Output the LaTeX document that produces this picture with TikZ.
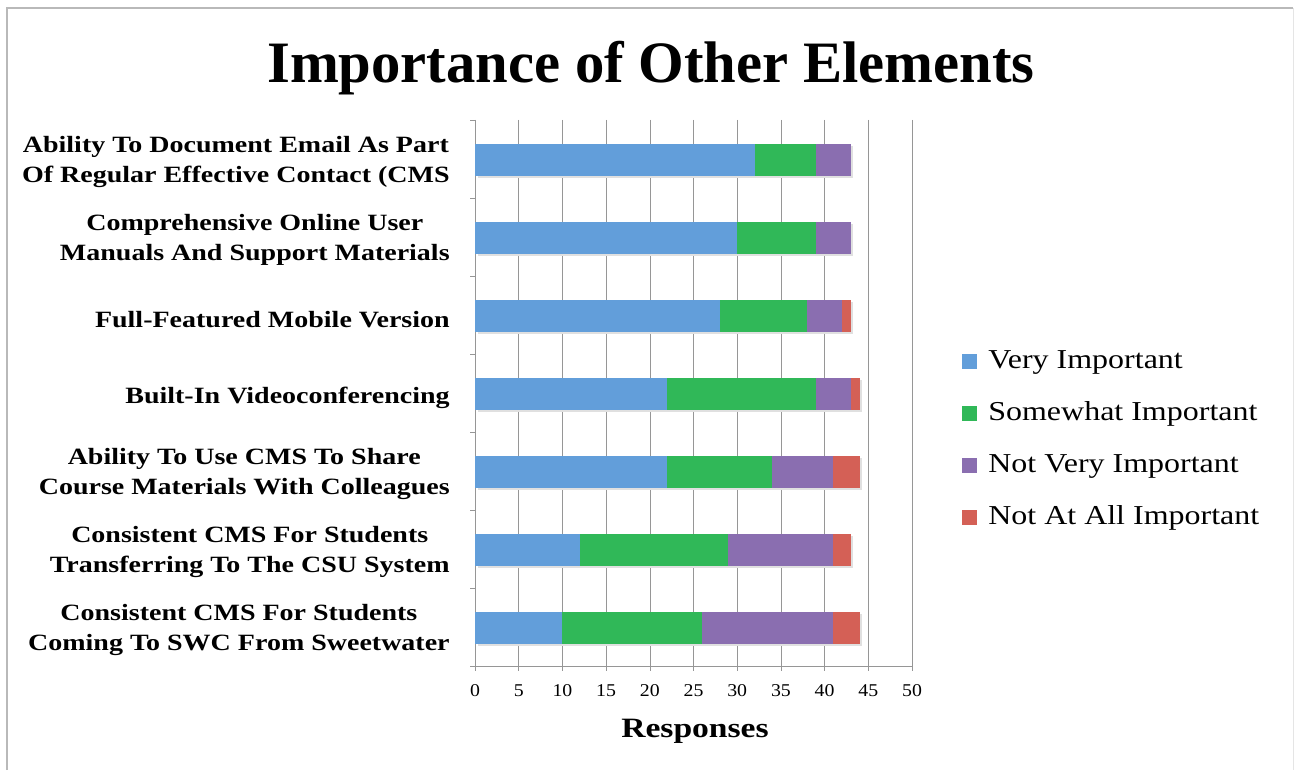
\documentclass[tikz,border=0pt]{standalone}
\usepackage{fontspec}
\setmainfont{Liberation Serif}
\usepackage{tikz}

\definecolor{veryimp}{RGB}{98,158,218}
\definecolor{somewhatimp}{RGB}{48,184,88}
\definecolor{notveryimp}{RGB}{138,110,176}
\definecolor{notatallimp}{RGB}{212,96,86}
\definecolor{gridgray}{RGB}{150,150,150}

\begin{document}
\begin{tikzpicture}[x=0.75pt,y=-0.75pt]
\tikzstyle{every node}+=[inner sep=0pt]
\tikzstyle{catlabel}=[anchor=east,align=center,xscale=1.2,font=\fontsize{17.5}{22.5}\selectfont\bfseries]
\tikzstyle{ticklabel}=[xscale=1.1,font=\fontsize{13.5}{15}\selectfont]
\tikzstyle{legtext}=[anchor=west,xscale=1.17,font=\fontsize{20.5}{24}\selectfont]
\tikzstyle{shadow}=[black!12]
\useasboundingbox (0,0) rectangle (1294,770);
% frame
\draw [gray!55,line width=1.5] (7,770) -- (7,8) -- (1293,8);
\draw [gray!20] (1293,8) -- (1293,770);
% title
\node (title) at (651,68) {\fontsize{44}{52}\selectfont\bfseries Importance of Other Elements};
% grid and axes
\foreach \v in {5,10,...,50}
  \draw [gridgray] ({475+8.74*\v},120) -- ({475+8.74*\v},671);
\foreach \y in {120,198,...,666}
  \draw [gridgray] (470,\y) -- (475,\y);
\draw [gridgray] (475,120) -- (475,671);
\draw [gridgray] (475,666) -- (912,666);
\foreach \v in {0,5,...,50}
  \node [ticklabel] (tick\v) at ({475+8.74*\v},691) {\v};
\node [xscale=1.2,font=\fontsize{21}{25}\selectfont\bfseries] (xtitle) at (695,731) {Responses};
% bars
\begin{scope}[shift={(475,0)},x=6.555pt]
\fill [shadow] (0.3,146) rectangle (43.3,178);
\fill [veryimp] (0,144) rectangle (32,176);
\fill [somewhatimp] (32,144) rectangle (39,176);
\fill [notveryimp] (39,144) rectangle (43,176);
\fill [shadow] (0.3,224) rectangle (43.3,256);
\fill [veryimp] (0,222) rectangle (30,254);
\fill [somewhatimp] (30,222) rectangle (39,254);
\fill [notveryimp] (39,222) rectangle (43,254);
\fill [shadow] (0.3,302) rectangle (43.3,334);
\fill [veryimp] (0,300) rectangle (28,332);
\fill [somewhatimp] (28,300) rectangle (38,332);
\fill [notveryimp] (38,300) rectangle (42,332);
\fill [notatallimp] (42,300) rectangle (43,332);
\fill [shadow] (0.3,380) rectangle (44.3,412);
\fill [veryimp] (0,378) rectangle (22,410);
\fill [somewhatimp] (22,378) rectangle (39,410);
\fill [notveryimp] (39,378) rectangle (43,410);
\fill [notatallimp] (43,378) rectangle (44,410);
\fill [shadow] (0.3,458) rectangle (44.3,490);
\fill [veryimp] (0,456) rectangle (22,488);
\fill [somewhatimp] (22,456) rectangle (34,488);
\fill [notveryimp] (34,456) rectangle (41,488);
\fill [notatallimp] (41,456) rectangle (44,488);
\fill [shadow] (0.3,536) rectangle (43.3,568);
\fill [veryimp] (0,534) rectangle (12,566);
\fill [somewhatimp] (12,534) rectangle (29,566);
\fill [notveryimp] (29,534) rectangle (41,566);
\fill [notatallimp] (41,534) rectangle (43,566);
\fill [shadow] (0.3,614) rectangle (44.3,646);
\fill [veryimp] (0,612) rectangle (10,644);
\fill [somewhatimp] (10,612) rectangle (26,644);
\fill [notveryimp] (26,612) rectangle (41,644);
\fill [notatallimp] (41,612) rectangle (44,644);
\end{scope}
% category labels
\node [catlabel] (cat1) at (450,162) {Ability To Document Email As Part\\Of Regular Effective Contact (CMS};
\node [catlabel] (cat2) at (450,240) {Comprehensive Online User\\Manuals And Support Materials};
\node [catlabel] (cat3) at (450,320) {Full-Featured Mobile Version};
\node [catlabel] (cat4) at (450,398) {Built-In Videoconferencing};
\node [catlabel] (cat5) at (450,474) {Ability To Use CMS To Share\\Course Materials With Colleagues};
\node [catlabel] (cat6) at (450,552) {Consistent CMS For Students\\Transferring To The CSU System};
\node [catlabel] (cat7) at (450,630) {Consistent CMS For Students\\Coming To SWC From Sweetwater};
% legend
\fill [veryimp] (962,354) rectangle (977,369);
\node [legtext] (leg1) at (988,362) {Very Important};
\fill [somewhatimp] (962,406) rectangle (977,421);
\node [legtext] (leg2) at (988,414) {Somewhat Important};
\fill [notveryimp] (962,458) rectangle (977,473);
\node [legtext] (leg3) at (988,466) {Not Very Important};
\fill [notatallimp] (962,510) rectangle (977,525);
\node [legtext] (leg4) at (988,518) {Not At All Important};
\end{tikzpicture}
\end{document}
